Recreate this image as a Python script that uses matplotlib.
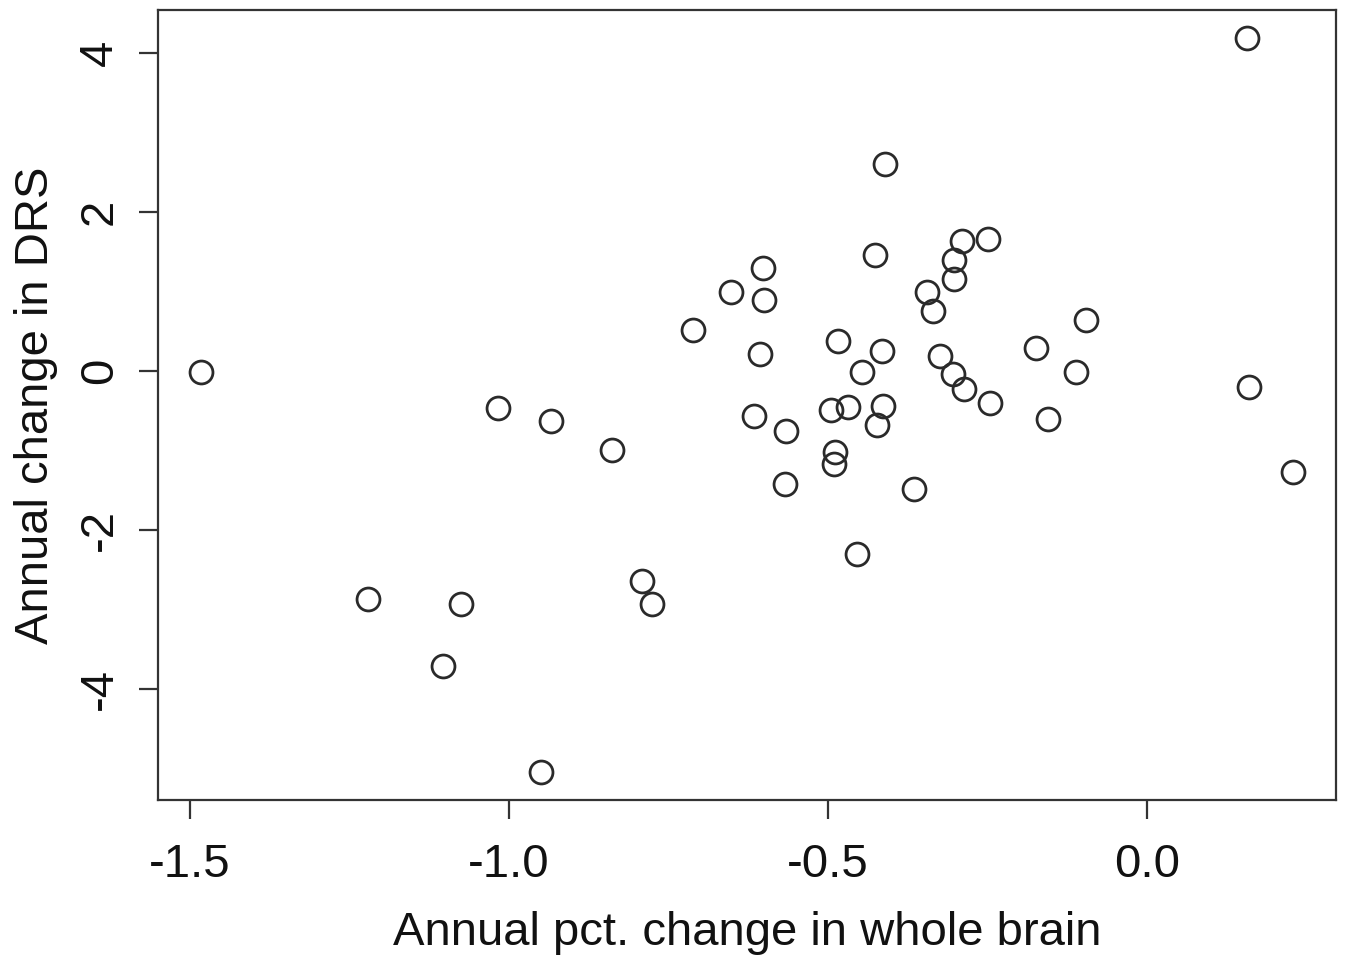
import numpy as np
import matplotlib
matplotlib.use('Agg')
import matplotlib.pyplot as plt

# 数据：脑体积年变化百分比 vs DRS 年变化
brain_pct = [0.157, -0.411, 0.160, 0.229, -1.483, -1.221, -1.075, -1.103,
             -0.950, -1.017, -0.934, -0.839, -0.792, -0.776, -0.712, -0.652,
             -0.602, -0.600, -0.607, -0.616, -0.566, -0.567, -0.484, -0.495,
             -0.469, -0.489, -0.491, -0.447, -0.455, -0.426, -0.415, -0.414,
             -0.423, -0.365, -0.345, -0.335, -0.324, -0.303, -0.303, -0.290,
             -0.304, -0.287, -0.249, -0.246, -0.174, -0.155, -0.111, -0.096]
drs_change = [4.18, 2.60, -0.20, -1.27, -0.01, -2.86, -2.93, -3.71,
              -5.04, -0.46, -0.63, -0.99, -2.64, -2.93, 0.52, 0.99,
              1.29, 0.89, 0.21, -0.57, -0.75, -1.42, 0.38, -0.49,
              -0.45, -1.02, -1.17, -0.01, -2.30, 1.46, 0.25, -0.44,
              -0.68, -1.48, 0.99, 0.75, 0.19, 1.39, 1.16, 1.63,
              -0.04, -0.23, 1.66, -0.40, 0.29, -0.60, -0.01, 0.64]

xticks = [-1.5, -1.0, -0.5, 0.0]
xticklabels = ['-1.5', '-1.0', '-0.5', '0.0']
yticks = [-4, -2, 0, 2, 4]

plt.rcParams['font.family'] = ['Liberation Sans', 'DejaVu Sans']
plt.rcParams['axes.unicode_minus'] = False

fig = plt.figure(figsize=(13.47, 9.61), dpi=100)
ax = fig.add_axes([0.1173, 0.1675, 0.8745, 0.8221])

ax.plot(brain_pct, drs_change, 'o', mfc='none', mec='#2a2a2a',
        ms=16.5, mew=2.0)

ax.set_xlim(-1.550, 0.296)
ax.set_ylim(-5.39, 4.535)
ax.set_xticks(xticks)
ax.set_xticklabels(xticklabels)
ax.set_yticks(yticks)

for s in ax.spines.values():
    s.set_linewidth(1.6)
    s.set_color('#333333')

ax.tick_params(axis='both', direction='out', length=14, width=1.6,
               color='#333333', labelsize=34, labelcolor='#111111')
ax.tick_params(axis='x', pad=17)
ax.tick_params(axis='y', pad=12, labelrotation=90)
for lab in ax.get_yticklabels():
    lab.set_va('center')

ax.set_xlabel('Annual pct. change in whole brain', fontsize=34,
              color='#111111', labelpad=17)
ax.set_ylabel('Annual change in DRS', fontsize=34, color='#111111',
              labelpad=14)

fig.savefig('out.png', dpi=100)
